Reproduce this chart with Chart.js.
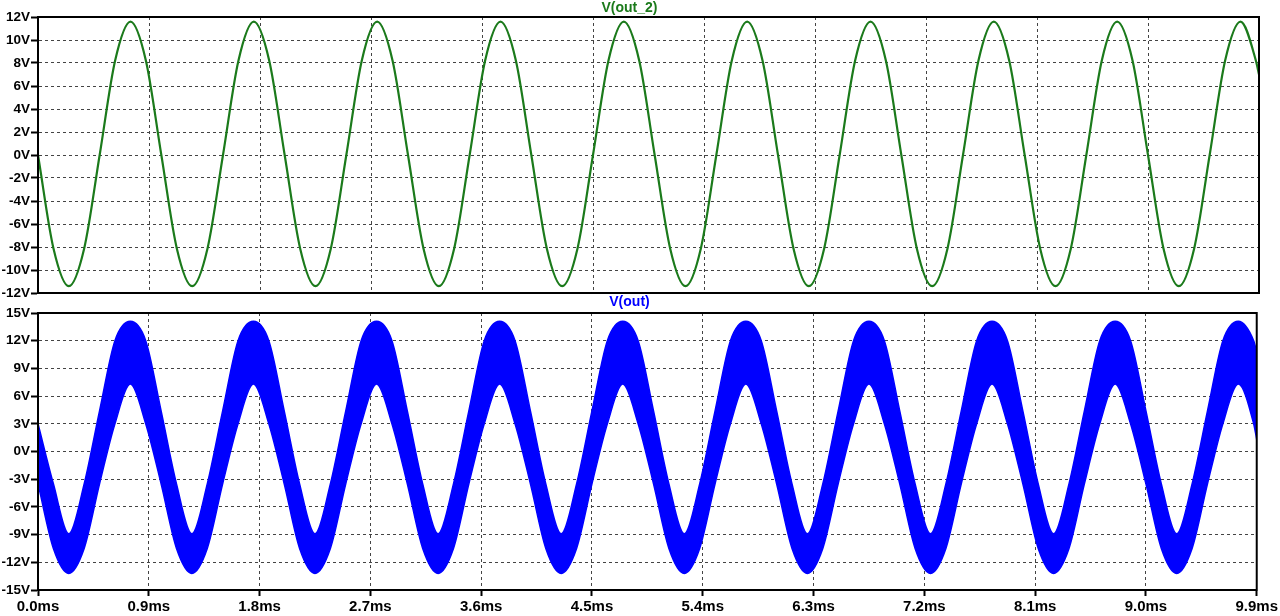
<!DOCTYPE html>
<html>
<head>
<meta charset="utf-8">
<script src="https://cdn.jsdelivr.net/npm/chart.js@4/dist/chart.umd.min.js"></script>
<style>
  body { margin: 0; background: #fff; width: 1280px; height: 616px; overflow: hidden; }
  canvas { position: absolute; left: 0; }
  #top { top: 0; }
  #bot { top: 294px; }
</style>
</head>
<body>
<canvas id="top" width="1280" height="312"></canvas>
<canvas id="bot" width="1280" height="324"></canvas>
<script>
// time axis, ms
const tMs = [
  0, 0.125, 0.25, 0.375, 0.5, 0.625, 0.75, 0.875,
  1, 1.125, 1.25, 1.375, 1.5, 1.625, 1.75, 1.875,
  2, 2.125, 2.25, 2.375, 2.5, 2.625, 2.75, 2.875,
  3, 3.125, 3.25, 3.375, 3.5, 3.625, 3.75, 3.875,
  4, 4.125, 4.25, 4.375, 4.5, 4.625, 4.75, 4.875,
  5, 5.125, 5.25, 5.375, 5.5, 5.625, 5.75, 5.875,
  6, 6.125, 6.25, 6.375, 6.5, 6.625, 6.75, 6.875,
  7, 7.125, 7.25, 7.375, 7.5, 7.625, 7.75, 7.875,
  8, 8.125, 8.25, 8.375, 8.5, 8.625, 8.75, 8.875,
  9, 9.125, 9.25, 9.375, 9.5, 9.625, 9.75, 9.875,
  9.9
];

// V(out_2), volts
const vOut2 = [
  0, -8.1, -11.4, -8.1, 0, 8.2, 11.6, 8.2,
  0, -8.1, -11.4, -8.1, 0, 8.2, 11.6, 8.2,
  0, -8.1, -11.4, -8.1, 0, 8.2, 11.6, 8.2,
  0, -8.1, -11.4, -8.1, 0, 8.2, 11.6, 8.2,
  0, -8.1, -11.4, -8.1, 0, 8.2, 11.6, 8.2,
  0, -8.1, -11.4, -8.1, 0, 8.2, 11.6, 8.2,
  0, -8.1, -11.4, -8.1, 0, 8.2, 11.6, 8.2,
  0, -8.1, -11.4, -8.1, 0, 8.2, 11.6, 8.2,
  0, -8.1, -11.4, -8.1, 0, 8.2, 11.6, 8.2,
  0, -8.1, -11.4, -8.1, 0, 8.2, 11.6, 8.2,
  7.0
];

// V(out) is a thick band: upper and lower edge, volts
const vOutHi = [
  3.0, -3.5, -8.9, -3.5, 4.4, 12.0, 14.1, 12.0,
  4.4, -3.5, -8.9, -3.5, 4.4, 12.0, 14.1, 12.0,
  4.4, -3.5, -8.9, -3.5, 4.4, 12.0, 14.1, 12.0,
  4.4, -3.5, -8.9, -3.5, 4.4, 12.0, 14.1, 12.0,
  4.4, -3.5, -8.9, -3.5, 4.4, 12.0, 14.1, 12.0,
  4.4, -3.5, -8.9, -3.5, 4.4, 12.0, 14.1, 12.0,
  4.4, -3.5, -8.9, -3.5, 4.4, 12.0, 14.1, 12.0,
  4.4, -3.5, -8.9, -3.5, 4.4, 12.0, 14.1, 12.0,
  4.4, -3.5, -8.9, -3.5, 4.4, 12.0, 14.1, 12.0,
  4.4, -3.5, -8.9, -3.5, 4.4, 12.0, 14.1, 12.0,
  10.8
];
const vOutLo = [
  -3.5, -10.5, -13.2, -10.5, -3.5, 3.0, 7.3, 3.0,
  -3.5, -10.5, -13.2, -10.5, -3.5, 3.0, 7.3, 3.0,
  -3.5, -10.5, -13.2, -10.5, -3.5, 3.0, 7.3, 3.0,
  -3.5, -10.5, -13.2, -10.5, -3.5, 3.0, 7.3, 3.0,
  -3.5, -10.5, -13.2, -10.5, -3.5, 3.0, 7.3, 3.0,
  -3.5, -10.5, -13.2, -10.5, -3.5, 3.0, 7.3, 3.0,
  -3.5, -10.5, -13.2, -10.5, -3.5, 3.0, 7.3, 3.0,
  -3.5, -10.5, -13.2, -10.5, -3.5, 3.0, 7.3, 3.0,
  -3.5, -10.5, -13.2, -10.5, -3.5, 3.0, 7.3, 3.0,
  -3.5, -10.5, -13.2, -10.5, -3.5, 3.0, 7.3, 3.0,
  1.3
];

const xTicks = [0, 0.9, 1.8, 2.7, 3.6, 4.5, 5.4, 6.3, 7.2, 8.1, 9.0, 9.9];
const yTicksTop = [-12, -10, -8, -6, -4, -2, 0, 2, 4, 6, 8, 10, 12];
const yTicksBot = [-15, -12, -9, -6, -3, 0, 3, 6, 9, 12, 15];

const FONT = '"Liberation Sans", Arial, sans-serif';
const green = '#1b7a1b';
const blue = '#0000ff';

function pts(ys) { return ys.map((y, i) => ({ x: tMs[i], y: y })); }

// black frame round the plot area
const frame = {
  id: 'frame',
  afterDraw(chart) {
    const a = chart.chartArea, c = chart.ctx;
    c.save();
    c.strokeStyle = '#000';
    c.lineWidth = 2;
    c.strokeRect(a.left, a.top, a.right - a.left, a.bottom - a.top);
    c.restore();
  }
};

function xScale(showLabels) {
  return {
    type: 'linear', min: 0, max: 9.9,
    afterBuildTicks: s => { s.ticks = xTicks.map(v => ({ value: v })); },
    ticks: {
      display: showLabels, autoSkip: false, maxRotation: 0, padding: 2,
      color: '#000', font: { family: FONT, size: 15, weight: 'bold' },
      callback: v => v.toFixed(1) + 'ms'
    },
    grid: { color: '#444', lineWidth: 1, drawTicks: showLabels, tickLength: 6, tickColor: '#000', tickWidth: 2 },
    border: { display: true, color: '#000', width: 2, dash: [3, 3] }
  };
}

function yScale(lo, hi, ticks) {
  return {
    min: lo, max: hi,
    afterBuildTicks: s => { s.ticks = ticks.map(v => ({ value: v })); },
    afterFit: s => { s.width = 38; },
    ticks: {
      padding: 1, color: '#000', font: { family: FONT, size: 13.5, weight: 'bold' },
      callback: v => v + 'V'
    },
    grid: { color: '#444', lineWidth: 1, tickLength: 7, tickColor: '#000', tickWidth: 2 },
    border: { display: true, color: '#000', width: 2, dash: [3, 3] }
  };
}

new Chart(document.getElementById('top'), {
  type: 'line',
  data: {
    datasets: [{
      label: 'V(out_2)', data: pts(vOut2),
      borderColor: green, borderWidth: 2.2, pointRadius: 0,
      cubicInterpolationMode: 'monotone', fill: false
    }]
  },
  options: {
    responsive: false, animation: false, devicePixelRatio: 1,
    layout: { padding: { left: 0, right: 21, top: 0, bottom: 19 } },
    plugins: {
      legend: { display: false }, tooltip: { enabled: false },
      title: {
        display: true, text: 'V(out_2)', color: green,
        font: { family: FONT, size: 14, weight: 'bold' },
        padding: { top: 0, bottom: 0.2 }
      }
    },
    scales: { x: xScale(false), y: yScale(-12, 12, yTicksTop) }
  },
  plugins: [frame]
});

new Chart(document.getElementById('bot'), {
  type: 'line',
  data: {
    datasets: [{
      label: 'V(out) high', data: pts(vOutHi),
      borderColor: blue, borderWidth: 1.5, pointRadius: 0,
      cubicInterpolationMode: 'monotone', fill: false
    }, {
      label: 'V(out) low', data: pts(vOutLo),
      borderColor: blue, borderWidth: 1.5, pointRadius: 0,
      backgroundColor: blue,
      cubicInterpolationMode: 'monotone', fill: '-1'
    }]
  },
  options: {
    responsive: false, animation: false, devicePixelRatio: 1,
    layout: { padding: { left: 0, right: 21, top: 0, bottom: 0 } },
    plugins: {
      legend: { display: false }, tooltip: { enabled: false },
      title: {
        display: true, text: 'V(out)', color: blue,
        font: { family: FONT, size: 14, weight: 'bold' },
        padding: { top: 0, bottom: 2.2 }
      }
    },
    scales: { x: xScale(true), y: yScale(-15, 15, yTicksBot) }
  },
  plugins: [frame]
});
</script>
</body>
</html>
